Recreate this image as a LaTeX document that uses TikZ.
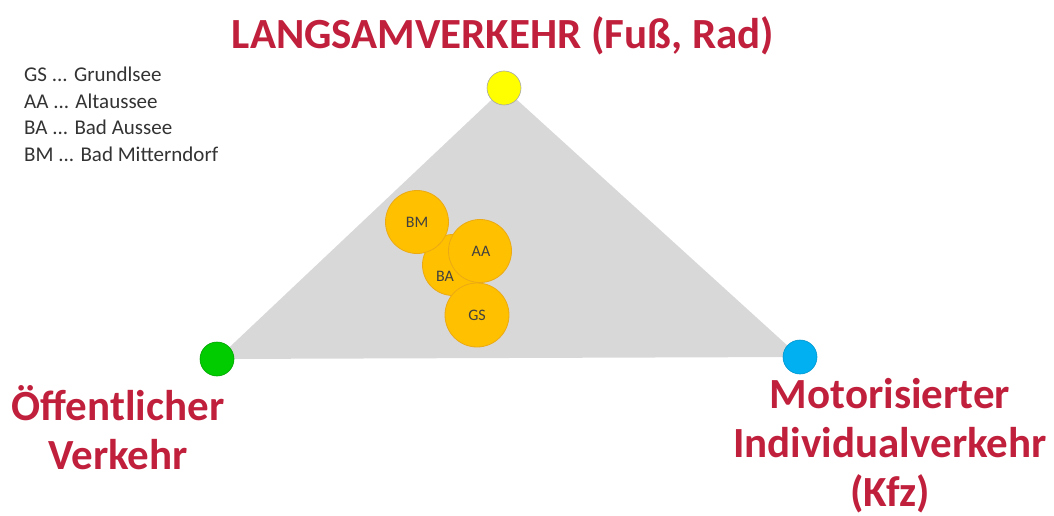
\documentclass[tikz,border=0pt]{standalone}
\usepackage{fontspec}
\setmainfont{Carlito}
\definecolor{lblred}{RGB}{192,32,60}
\definecolor{tri}{RGB}{216,216,216}
\definecolor{gold}{RGB}{255,192,0}
\definecolor{goldedge}{RGB}{235,170,20}
\definecolor{vgreen}{RGB}{0,204,0}
\definecolor{vblue}{RGB}{0,176,240}
\definecolor{vyellow}{RGB}{255,255,0}
\begin{document}
\begin{tikzpicture}[x=1pt,y=-1pt,
  bigtxt/.style={text=lblred,font=\fontsize{43}{49}\selectfont\bfseries,align=center,inner sep=0pt},
  legtxt/.style={font=\fontsize{21}{26.5}\selectfont,align=left,anchor=north west,inner sep=0pt,text=black!80},
  town/.style={circle,fill=gold,draw=goldedge,line width=0.8pt,minimum size=#1,inner sep=0pt,font=\fontsize{16}{16}\selectfont,text=black!75},
  corner/.style={circle,minimum size=34pt,inner sep=0pt,line width=0.6pt}]
\useasboundingbox (0,0) rectangle (1054,516);
\coordinate (L) at (217,359);
\coordinate (T) at (504,88);
\coordinate (R) at (800,357);
\fill[tri] (L) -- (T) -- (R) -- cycle;
\node[corner,fill=vgreen,draw=vgreen!80!black] (g) at (L) {};
\node[corner,fill=vblue,draw=vblue!85!black] (b) at (R) {};
\node[corner,fill=vyellow,draw=black!35] (y) at (T) {};
\node[town=61pt] (BA) at (453,265) {};
\node at (445,276) {\fontsize{16}{16}\selectfont\color{black!75}BA};
\node[town=63pt] (BM) at (417,222) {BM};
\node[town=63pt] (AA) at (480,251) {};
\node at (481,251) {\fontsize{16}{16}\selectfont\color{black!75}AA};
\node[town=64pt] (GS) at (477,315) {GS};
\node[bigtxt] (top) at (503,36) {LANGSAMVERKEHR (Fuß, Rad)};
\node[bigtxt] (left) at (118,428) {Öffentlicher\\Verkehr};
\node[bigtxt] (right) at (890,446) {Motorisierter\\Individualverkehr\\(Kfz)};
\node[legtxt] (leg) at (24,67) {GS ... Grundlsee\\AA ... Altaussee\\BA ... Bad Aussee\\BM ... Bad Mitterndorf};
\end{tikzpicture}
\end{document}
